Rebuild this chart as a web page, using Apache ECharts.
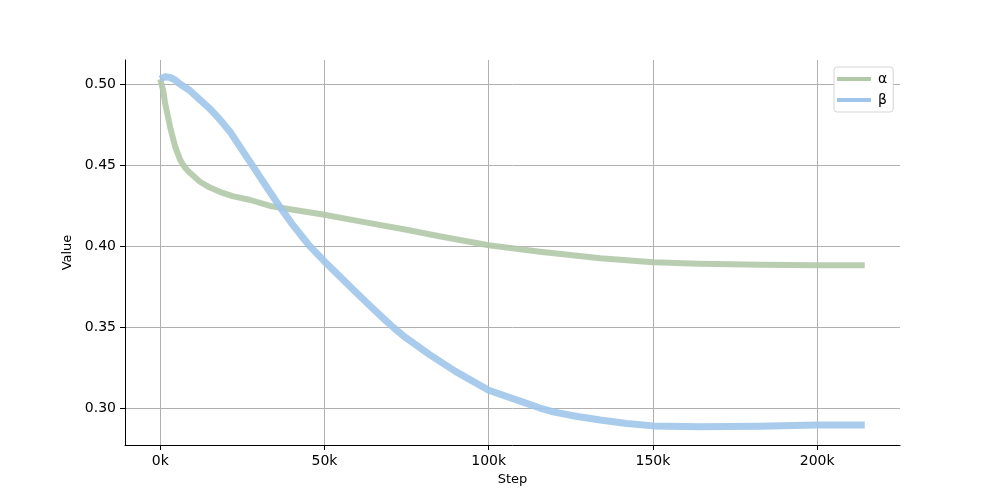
<!DOCTYPE html>
<html>
<head>
<meta charset="utf-8">
<script src="https://cdn.jsdelivr.net/npm/echarts@6/dist/echarts.min.js"></script>
<style>html,body{margin:0;padding:0;background:#fff}#c{width:1000px;height:500px}</style>
</head>
<body>
<div id="c"></div>
<script>
// Step values (in steps) and series values
const alphaSteps = [0, 900, 1500, 3000, 4600, 6100, 7500, 9100, 12200, 15000, 18300, 22000, 27400, 33500, 40000, 50000, 60000, 75000, 85000, 100000, 115600, 134000, 150000, 164000, 182600, 200000, 214500];
const alphaVals  = [0.503, 0.496, 0.488, 0.4735, 0.461, 0.453, 0.4485, 0.445, 0.4395, 0.4362, 0.4333, 0.4308, 0.4284, 0.4247, 0.4225, 0.4193, 0.4155, 0.410, 0.406, 0.4005, 0.3965, 0.3925, 0.390, 0.389, 0.3885, 0.3882, 0.3881];

const betaSteps = [0, 1500, 3000, 4500, 6000, 9000, 12200, 15000, 18000, 21300, 25000, 28300, 30400, 33500, 36500, 40000, 43600, 45400, 50000, 55000, 58800, 64000, 68000, 71000, 74000, 82000, 90000, 100000, 110000, 115600, 120000, 127000, 134000, 142000, 150000, 164000, 182000, 200000, 214500];
const betaVals  = [0.503, 0.5045, 0.504, 0.5025, 0.500, 0.496, 0.490, 0.485, 0.4784, 0.4704, 0.4590, 0.4490, 0.4425, 0.4330, 0.4240, 0.4140, 0.4048, 0.4002, 0.3905, 0.3805, 0.3730, 0.3628, 0.3552, 0.3497, 0.3446, 0.3330, 0.3225, 0.311, 0.304, 0.300, 0.2975, 0.2948, 0.2926, 0.2905, 0.289, 0.2884, 0.2888, 0.2895, 0.2895];

const xTicks = [0, 50000, 100000, 150000, 200000];
const yTicks = [0.30, 0.35, 0.40, 0.45, 0.50];
const seriesNames = ['α', 'β'];

const pair = (xs, ys) => xs.map((x, i) => [x, ys[i]]);

const chart = echarts.init(document.getElementById('c'), null, {renderer: 'canvas'});
const font = 'DejaVu Sans';
const green = '#b1c9a8';
const blue = '#a0c5ea';

chart.setOption({
  animation: false,
  backgroundColor: '#fff',
  textStyle: {fontFamily: font},
  grid: {left: 125, right: 100, top: 60, bottom: 55, containLabel: false},
  legend: {
    left: 834, top: 67, orient: 'vertical',
    data: seriesNames.map(n => ({name: n, icon: 'rect'})),
    itemWidth: 34, itemHeight: 4, itemGap: 7,
    padding: [5, 6, 5, 3],
    backgroundColor: '#fff', borderColor: '#d5d5d5', borderWidth: 1, borderRadius: 3,
    textStyle: {fontSize: 14, color: '#000', fontFamily: font, padding: [0, 0, 0, 2]}
  },
  xAxis: {
    type: 'value', min: -10725, max: 225225,
    name: 'Step', nameLocation: 'middle', nameGap: 28,
    nameTextStyle: {fontSize: 13, color: '#000', fontFamily: font},
    axisLine: {onZero: false, lineStyle: {color: '#000', width: 1}},
    axisTick: {show: true, length: 5, lineStyle: {color: '#000'}, customValues: xTicks},
    axisLabel: {customValues: xTicks, margin: 9, fontSize: 14, color: '#000', fontFamily: font,
      formatter: v => Math.round(v / 1000) + 'k'},
    splitLine: {show: true, lineStyle: {color: '#b0b0b0', width: 1}}
  },
  yAxis: {
    type: 'value', min: 0.2772, max: 0.5148,
    name: 'Value', nameLocation: 'middle', nameGap: 49,
    nameTextStyle: {fontSize: 13, color: '#000', fontFamily: font},
    axisLine: {show: true, onZero: false, lineStyle: {color: '#000', width: 1}},
    axisTick: {show: true, length: 5, lineStyle: {color: '#000'}, customValues: yTicks},
    axisLabel: {customValues: yTicks, margin: 9, fontSize: 14, color: '#000', fontFamily: font,
      formatter: v => v.toFixed(2)},
    splitLine: {show: true, lineStyle: {color: '#b0b0b0', width: 1}}
  },
  series: [
    {name: seriesNames[0], type: 'line', data: pair(alphaSteps, alphaVals), showSymbol: false,
     smooth: false, lineStyle: {color: green, width: 6, opacity: 0.9, join: 'round'}, itemStyle: {color: green}},
    {name: seriesNames[1], type: 'line', data: pair(betaSteps, betaVals), showSymbol: false,
     smooth: false, lineStyle: {color: blue, width: 7, opacity: 0.9, join: 'round'}, itemStyle: {color: blue}}
  ]
});
</script>
</body>
</html>
